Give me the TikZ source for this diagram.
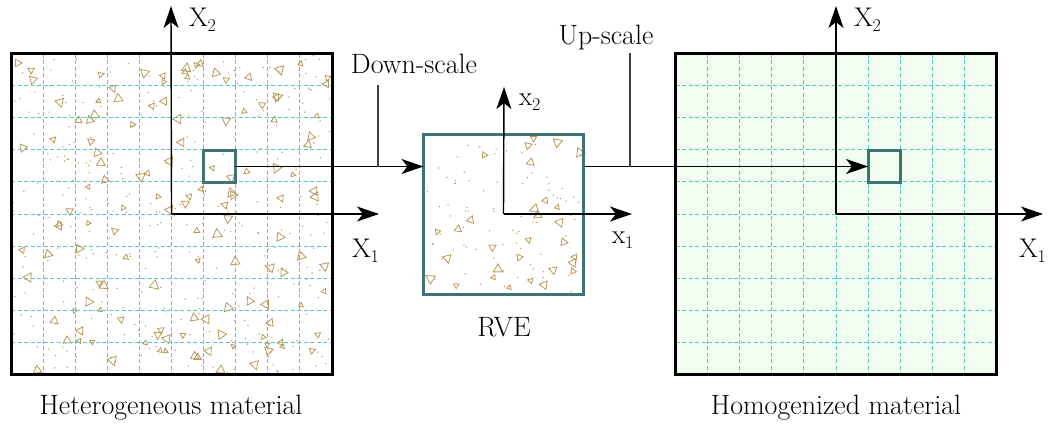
\documentclass[tikz,border=0pt]{standalone}
\usepackage{fontspec}
\usetikzlibrary{arrows.meta, positioning, calc}
\definecolor{frameTeal}{HTML}{3E7474}
\definecolor{gridTeal}{HTML}{5CC6C6}
\definecolor{homFill}{HTML}{F0FDF0}
\definecolor{grainTan}{HTML}{B8985A}

% axis label with a lowered index
\newcommand{\axlab}[2]{{\fontsize{27}{30}\selectfont #1\raisebox{-5pt}{\fontsize{18}{18}\selectfont #2}}}
% scattered grains: x0, y0, width, height, triangles, dots
\newcommand{\grains}[6]{%
  \foreach \k in {1,...,#5}{
    \pgfmathsetmacro\gx{#1+4+rnd*(#3-8)}
    \pgfmathsetmacro\gy{#2+4+rnd*(#4-8)}
    \pgfmathsetmacro\ga{rnd*360}
    \pgfmathsetmacro\gs{2.6+rnd*3.0}
    \draw[grainTan, line width=0.8pt] (\gx,\gy) +({\ga}:\gs) -- +({\ga+120}:\gs) -- +({\ga+240}:\gs) -- cycle;
  }
  \foreach \k in {1,...,#6}{
    \pgfmathsetmacro\gx{#1+2+rnd*(#3-4)}
    \pgfmathsetmacro\gy{#2+2+rnd*(#4-4)}
    \fill[grainTan] (\gx,\gy) circle (0.75pt);
  }}

\begin{document}
\begin{tikzpicture}[x=1pt, y=-1pt,
  every node/.style={font=\fontsize{28}{32}\selectfont, inner sep=0pt, outer sep=0pt},
  matbox/.style={minimum size=321pt},
  cellbox/.style={draw=frameTeal, line width=3pt, minimum size=32pt},
  rvebox/.style={draw=frameTeal, line width=3pt, minimum size=160pt},
  frame/.style={line width=3pt},
  gridline/.style={gridTeal, line width=1pt, dash pattern=on 4pt off 2.5pt},
  axis/.style={line width=1.4pt, -{Stealth[length=22pt, width=15pt, inset=6pt]}},
  link/.style={line width=1.4pt, -{Stealth[length=22pt, width=15pt, inset=6pt]}},
  tick/.style={line width=1.4pt, black!75}]

  \useasboundingbox (0,0) rectangle (1050,426);
  \pgfmathsetseed{17}

  % heterogeneous material
  \node[matbox] (het) at (171.5,214) {};
  \grains{11}{53}{321}{322}{130}{300}
  \foreach \i in {1,...,9}{
    \draw[gridline] ($(het.north west)+(\i*32.1,0)$) -- ($(het.south west)+(\i*32.1,0)$);
    \draw[gridline] ($(het.north west)+(0,\i*32.1)$) -- ($(het.north east)+(0,\i*32.1)$);
  }
  \draw[frame] (het.north west) rectangle (het.south east);
  \node[cellbox] (hetcell) at (219,166.5) {};
  \coordinate (hetX1) at (379,214);
  \coordinate (hetX2) at (171,6);
  \draw[axis] (het.center) -- (hetX2);
  \draw[axis] (het.center) -- (hetX1);
  \node[anchor=base west] (lblHetX2) at (189,26) {\axlab{X}{2}};
  \node[anchor=base west] (lblHetX1) at (352,257) {\axlab{X}{1}};
  \node[anchor=base] (lblHet) at (171,414) {Heterogeneous material};

  % RVE
  \grains{423}{134}{161}{160}{30}{80}
  \node[rvebox] (rve) at (503.5,214) {};
  \coordinate (rveX1) at (632,214);
  \coordinate (rveX2) at (504,87);
  \draw[axis] (rve.center) -- (rveX2);
  \draw[axis] (rve.center) -- (rveX1);
  \node[anchor=base west] (lblRveX2) at (519,105) {\axlab{x}{2}};
  \node[anchor=base west] (lblRveX1) at (612,243) {\axlab{x}{1}};
  \node[anchor=base] (lblRve) at (504,336) {RVE};

  % homogenized material
  \node[matbox, fill=homFill] (hom) at (836,214) {};
  \foreach \i in {1,...,9}{
    \draw[gridline] ($(hom.north west)+(\i*32.1,0)$) -- ($(hom.south west)+(\i*32.1,0)$);
    \draw[gridline] ($(hom.north west)+(0,\i*32.1)$) -- ($(hom.north east)+(0,\i*32.1)$);
  }
  \draw[frame] (hom.north west) rectangle (hom.south east);
  \node[cellbox] (homcell) at (884,166.5) {};
  \coordinate (homX1) at (1043,214);
  \coordinate (homX2) at (836,6);
  \draw[axis] (hom.center) -- (homX2);
  \draw[axis] (hom.center) -- (homX1);
  \node[anchor=base west] (lblHomX2) at (854,26) {\axlab{X}{2}};
  \node[anchor=base west] (lblHomX1) at (1019,257) {\axlab{X}{1}};
  \node[anchor=base] (lblHom) at (836,414) {Homogenized material};

  % scale transitions
  \draw[link] (hetcell.east) -- (hetcell.east -| rve.west);
  \draw[link] (rve.east |- homcell.west) -- (homcell.west);
  \coordinate (downTop) at (378,85);
  \coordinate (upTop) at (630,53);
  \draw[tick] (downTop) -- (downTop |- hetcell.east);
  \draw[tick] (upTop) -- (upTop |- homcell.west);
  \node[anchor=base] (lblDown) at (414,73) {Down-scale};
  \node[anchor=base] (lblUp) at (606,44) {Up-scale};
\end{tikzpicture}
\end{document}
